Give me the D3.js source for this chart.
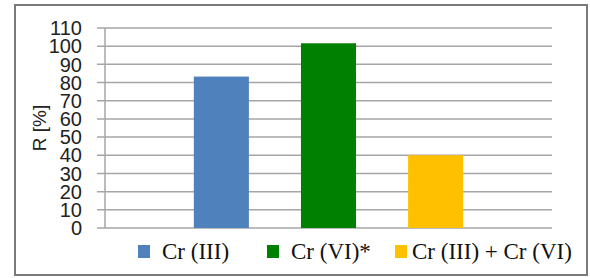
<!DOCTYPE html>
<html>
<head>
<meta charset="utf-8">
<script src="https://cdn.jsdelivr.net/npm/d3@7"></script>
<style>
  body { margin: 0; background: #fff; }
</style>
</head>
<body>
<div id="chart"></div>
<script>
// Chart data
const category = ["R"];
const seriesNames = ["Cr (III)", "Cr (VI)*", "Cr (III) + Cr (VI)"];
const seriesValues = [83.3, 101.6, 40];
const seriesColors = ["#4f81bd", "#008000", "#ffc000"];
const yTicks = [0, 10, 20, 30, 40, 50, 60, 70, 80, 90, 100, 110];

const W = 590, H = 278;
const margin = { top: 28, right: 38, bottom: 50, left: 105 };
const width = W - margin.left - margin.right;
const height = H - margin.top - margin.bottom;

const root = d3.select("#chart").append("svg")
    .attr("width", W)
    .attr("height", H);

// Outer frame
root.append("rect")
    .attr("x", 15).attr("y", 5)
    .attr("width", 572).attr("height", 270)
    .attr("fill", "#fff")
    .attr("stroke", "#7a7a7a")
    .attr("stroke-width", 2);

const svg = root.append("g")
    .attr("transform", `translate(${margin.left},${margin.top})`);

// Scales
const x0 = d3.scaleBand().domain(category).range([0, width]).padding(0.248);
const x1 = d3.scaleBand().domain(seriesNames).range([0, x0.bandwidth()]).paddingInner(0.486);
const y = d3.scaleLinear().domain([0, 110]).range([height, 0]);

// Gridlines
svg.append("g")
    .selectAll("line")
    .data(yTicks)
    .join("line")
    .attr("x1", -8)
    .attr("x2", width)
    .attr("y1", d => y(d))
    .attr("y2", d => y(d))
    .attr("stroke", "#a6a6a6")
    .attr("stroke-width", 1.5);

// Vertical axis line
svg.append("line")
    .attr("x1", 0).attr("x2", 0)
    .attr("y1", y(110)).attr("y2", y(0))
    .attr("stroke", "#a6a6a6")
    .attr("stroke-width", 1.5);

// Bars
svg.append("g")
    .selectAll("rect")
    .data(seriesNames.map((s, i) => ({ key: s, value: seriesValues[i], color: seriesColors[i] })))
    .join("rect")
    .attr("x", d => x0(category[0]) + x1(d.key))
    .attr("y", d => y(d.value))
    .attr("width", x1.bandwidth())
    .attr("height", d => y(0) - y(d.value))
    .attr("fill", d => d.color);

// Y tick labels
svg.append("g")
    .selectAll("text")
    .data(yTicks)
    .join("text")
    .attr("x", -23)
    .attr("y", d => y(d))
    .attr("dy", "0.36em")
    .attr("text-anchor", "end")
    .attr("font-family", "Liberation Sans, Arial, sans-serif")
    .attr("font-size", 20)
    .attr("fill", "#222")
    .text(d => d);

// Y axis label
root.append("text")
    .attr("transform", "translate(46,128) rotate(-90)")
    .attr("text-anchor", "middle")
    .attr("font-family", "Liberation Sans, Arial, sans-serif")
    .attr("font-size", 19)
    .attr("fill", "#222")
    .text("R [%]");

// Legend
const legendX = [138, 267, 395];
const legend = root.append("g")
    .selectAll("g")
    .data(seriesNames)
    .join("g")
    .attr("transform", (d, i) => `translate(${legendX[i]},245)`);

legend.append("rect")
    .attr("width", 12)
    .attr("height", 13)
    .attr("fill", (d, i) => seriesColors[i]);

legend.append("text")
    .attr("x", (d, i) => i === 2 ? 17 : 24)
    .attr("y", 14)
    .attr("font-family", "Liberation Serif, Times New Roman, serif")
    .attr("font-size", 23)
    .attr("fill", "#111")
    .text(d => d);
</script>
</body>
</html>
